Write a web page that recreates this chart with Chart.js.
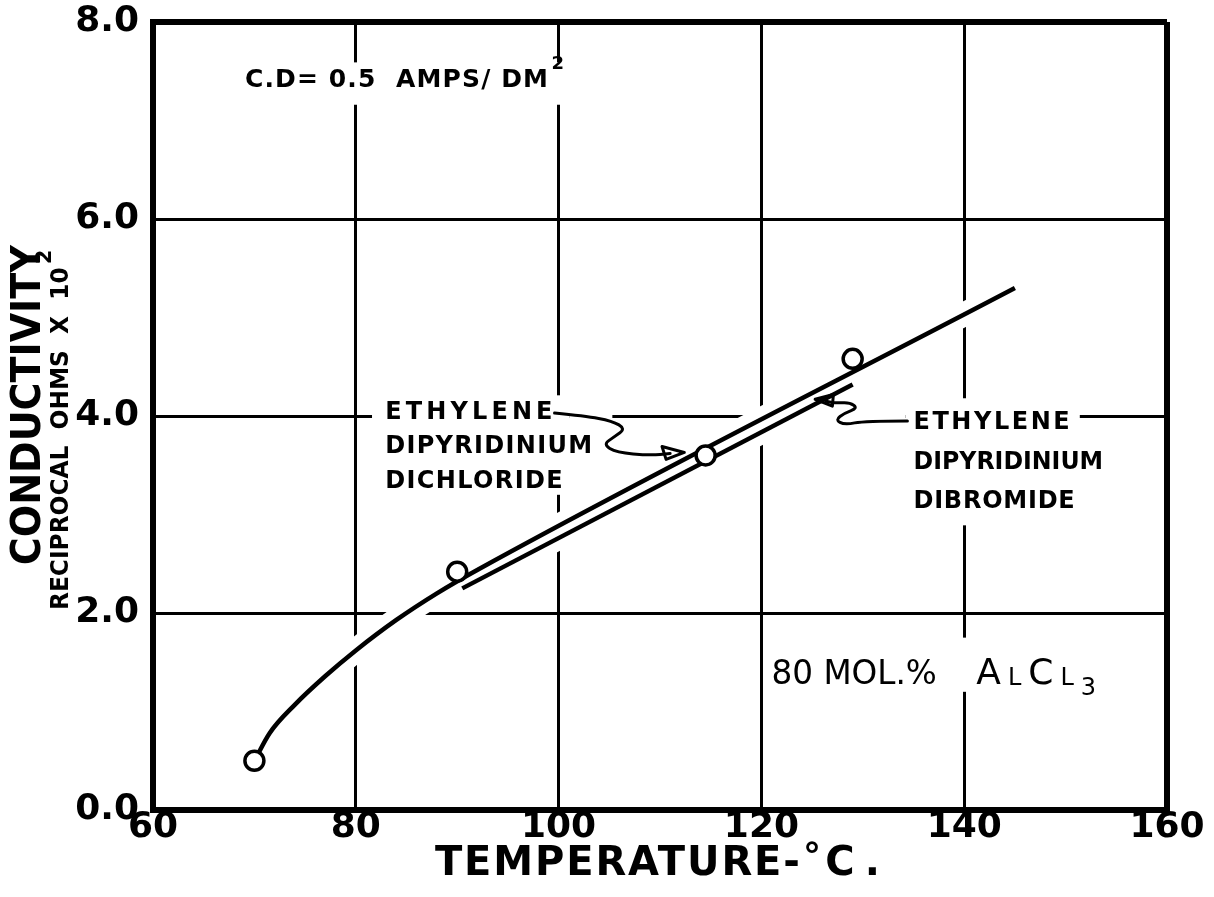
<!DOCTYPE html>
<html><head><meta charset="utf-8">
<script src="https://cdn.jsdelivr.net/npm/chart.js@4.4.1/dist/chart.umd.min.js"></script>
<style>html,body{margin:0;padding:0;background:#fff}#wrap{width:1214px;height:897px}</style>
</head><body><div id="wrap"><canvas id="c" width="1214" height="897"></canvas></div>
<script>
// ---- data ----
const xTicks = [60, 80, 100, 120, 140, 160];
const yTicks = [0, 2, 4, 6, 8];
const measuredTemp = [70, 90, 114.5, 129];
const measuredCond = [0.5, 2.42, 3.6, 4.58];
const chlorideTemp = [70, 71.5, 74, 77, 80, 84, 88, 92.2, 145];
const chlorideCond = [0.5, 0.78, 1.07, 1.36, 1.62, 1.93, 2.2, 2.45, 5.3];
const bromideTemp = [90.5, 129];
const bromideCond = [2.25, 4.32];

const FONT = '"DejaVu Sans", sans-serif';
const pts = (xs, ys) => xs.map((x, i) => ({x, y: ys[i]}));

function drawFit(ctx, str, x, y, w, font) {
  ctx.save();
  ctx.font = font;
  ctx.letterSpacing = '0px';
  ctx.textBaseline = 'middle';
  ctx.textAlign = 'left';
  const m = ctx.measureText(str).width;
  const n = str.length;
  const ls = n > 1 ? (w - m) / (n - 1) : 0;
  ctx.translate(x, y);
  if (ls >= 0) { ctx.letterSpacing = ls + 'px'; ctx.fillText(str, 0, 0); }
  else { ctx.scale(w / m, 1); ctx.fillText(str, 0, 0); }
  ctx.restore();
}

const notes = {
  id: 'notes',
  beforeDatasetsDraw(chart) {
    const {ctx, scales: {x, y}} = chart;
    const boxes = [
      [68.6, 100.6, 7.59, 7.16],
      [81.6, 101.1, 4.21, 3.20],
      [101.1, 105.3, 4.11, 3.84],
      [134.2, 151.4, 4.18, 2.89],
      [125.1, 134.2, 4.11, 3.84],
      [120.4, 156.5, 1.75, 1.20]
    ];
    ctx.save();
    ctx.fillStyle = '#fff';
    boxes.forEach(b => {
      const x0 = x.getPixelForValue(b[0]), x1 = x.getPixelForValue(b[1]);
      const y0 = y.getPixelForValue(b[2]), y1 = y.getPixelForValue(b[3]);
      ctx.fillRect(x0, y0, x1 - x0, y1 - y0);
    });
    ctx.restore();
  },
  afterDatasetsDraw(chart) {
    const {ctx, scales: {x, y}} = chart;
    const X = v => x.getPixelForValue(v), Y = v => y.getPixelForValue(v);
    ctx.save();
    ctx.fillStyle = '#000';
    const lab = 'bold 24px ' + FONT;
    // C.D label
    drawFit(ctx, 'C.D= 0.5  AMPS/ DM', X(69.07), Y(7.41), X(98.95) - X(69.07), 'bold 25px ' + FONT);
    drawFit(ctx, '2', X(99.3), Y(7.57), 12, 'bold 18px ' + FONT);
    // dichloride label
    drawFit(ctx, 'ETHYLENE', X(82.9), Y(4.03), X(99.4) - X(82.9), lab);
    drawFit(ctx, 'DIPYRIDINIUM', X(82.9), Y(3.69), X(103.3) - X(82.9), lab);
    drawFit(ctx, 'DICHLORIDE', X(82.9), Y(3.33), X(100.4) - X(82.9), lab);
    // dibromide label
    drawFit(ctx, 'ETHYLENE', X(135.0), Y(3.93), X(150.4) - X(135.0), lab);
    drawFit(ctx, 'DIPYRIDINIUM', X(135.0), Y(3.53), X(153.7) - X(135.0), lab);
    drawFit(ctx, 'DIBROMIDE', X(135.0), Y(3.13), X(150.9) - X(135.0), lab);
    // 80 MOL.% AlCl3
    drawFit(ctx, '80 MOL.%', X(121.0), Y(1.37), X(137.3) - X(121.0), '34px ' + FONT);
    let cx = X(141.2);
    const parts = [['A', '36px', 0], ['L', '24px', 4], ['C', '36px', 0], ['L', '24px', 4], ['3', '24px', 14]];
    ctx.textBaseline = 'middle';
    parts.forEach(p => {
      ctx.font = p[1] + ' ' + FONT;
      ctx.fillText(p[0], cx, Y(1.37) + p[2]);
      cx += ctx.measureText(p[0]).width + 7;
    });
    // leaders
    ctx.lineWidth = 3;
    ctx.lineJoin = 'round';
    ctx.lineCap = 'round';
    ctx.strokeStyle = '#000';
    const path = (arr) => {
      ctx.beginPath();
      ctx.moveTo(X(arr[0][0]), Y(arr[0][1]));
      for (let i = 1; i < arr.length - 1; i++) {
        const mx = (X(arr[i][0]) + X(arr[i + 1][0])) / 2, my = (Y(arr[i][1]) + Y(arr[i + 1][1])) / 2;
        ctx.quadraticCurveTo(X(arr[i][0]), Y(arr[i][1]), mx, my);
      }
      const l = arr[arr.length - 1];
      ctx.lineTo(X(l[0]), Y(l[1]));
      ctx.stroke();
    };
    path([[99.6, 4.03], [102.6, 4.0], [105.3, 3.95], [106.6, 3.87], [105.5, 3.79], [104.4, 3.71], [105.7, 3.63], [109.0, 3.6], [111.0, 3.62]]);
    ctx.beginPath();
    ctx.moveTo(X(112.4), Y(3.63)); ctx.lineTo(X(110.2), Y(3.69)); ctx.lineTo(X(110.6), Y(3.56)); ctx.closePath(); ctx.stroke();
    path([[134.4, 3.95], [130.2, 3.95], [128.2, 3.91], [127.3, 3.96], [128.2, 4.03], [129.5, 4.08], [128.7, 4.14], [127.3, 4.13], [126.4, 4.15]]);
    ctx.beginPath();
    ctx.moveTo(X(125.3), Y(4.17)); ctx.lineTo(X(127.1), Y(4.22)); ctx.lineTo(X(127.0), Y(4.10)); ctx.closePath(); ctx.stroke();
    ctx.restore();
  },
  afterDraw(chart) {
    const {ctx, chartArea: a, scales: {x, y}} = chart;
    const X = v => x.getPixelForValue(v), Y = v => y.getPixelForValue(v);
    ctx.save();
    ctx.fillStyle = '#000';
    // y title
    ctx.save();
    ctx.translate(a.left - 123, Y(4.11));
    ctx.rotate(-Math.PI / 2);
    drawFit(ctx, 'CONDUCTIVITY', -160, 0, 320, 'bold 40px ' + FONT);
    ctx.restore();
    ctx.save();
    ctx.translate(a.left - 92, Y(2.03));
    ctx.rotate(-Math.PI / 2);
    const len = Y(2.03) - Y(5.51);
    drawFit(ctx, 'RECIPROCAL  OHMS  X  10', 0, 0, len, 'bold 25px ' + FONT);
    drawFit(ctx, '2', len + 3, -15, 14, 'bold 21px ' + FONT);
    ctx.restore();
    // x title
    const ty = a.bottom + 55;
    drawFit(ctx, 'TEMPERATURE-', X(87.8), ty, X(123.8) - X(87.8), 'bold 40px ' + FONT);
    drawFit(ctx, '°', X(124.1), ty - 6, 18, 'bold 36px ' + FONT);
    drawFit(ctx, 'C.', X(126.3), ty, X(131.7) - X(126.3), 'bold 40px ' + FONT);
    ctx.restore();
  }
};

const edgeW = (vals) => (c) => (c.tick && (c.tick.value === vals[0] || c.tick.value === vals[1])) ? 6 : 3;

new Chart(document.getElementById('c'), {
  type: 'scatter',
  data: {
    datasets: [
      {label: 'halo1', data: pts(chlorideTemp, chlorideCond), showLine: true, borderColor: '#fff', borderWidth: 24, pointRadius: 0, cubicInterpolationMode: 'monotone', order: 5},
      {label: 'halo2', data: pts(bromideTemp, bromideCond), showLine: true, borderColor: '#fff', borderWidth: 24, pointRadius: 0, order: 5},
      {label: 'Ethylene dipyridinium dichloride', data: pts(chlorideTemp, chlorideCond), showLine: true, borderColor: '#000', borderWidth: 4.5, pointRadius: 0, cubicInterpolationMode: 'monotone', order: 2},
      {label: 'Ethylene dipyridinium dibromide', data: pts(bromideTemp, bromideCond), showLine: true, borderColor: '#000', borderWidth: 4.5, pointRadius: 0, order: 2},
      {label: 'Measured', data: pts(measuredTemp, measuredCond), showLine: false, pointRadius: 9.5, pointBorderWidth: 3.5, pointBackgroundColor: '#fff', pointBorderColor: '#000', order: 1}
    ]
  },
  options: {
    responsive: false,
    animation: false,
    devicePixelRatio: 1,
    events: [],
    layout: {padding: {top: 22, right: 47, left: 0, bottom: 0}},
    plugins: {legend: {display: false}, tooltip: {enabled: false}},
    scales: {
      x: {
        type: 'linear', min: 60, max: 160,
        afterBuildTicks: s => { s.ticks = xTicks.map(v => ({value: v})); },
        afterFit: s => { s.height = 87; s.paddingLeft = 0; s.paddingRight = 0; },
        ticks: {autoSkip: false, maxRotation: 0, padding: 0, color: '#000', font: {family: FONT, size: 36, weight: 'bold', lineHeight: 1}, callback: v => String(v)},
        grid: {color: '#000', lineWidth: edgeW([60, 160]), drawTicks: false},
        border: {color: '#000', width: 6}
      },
      y: {
        type: 'linear', min: 0, max: 8,
        afterBuildTicks: s => { s.ticks = yTicks.map(v => ({value: v})); },
        afterFit: s => { s.width = 153; s.paddingTop = 0; s.paddingBottom = 0; },
        ticks: {autoSkip: false, padding: 14, color: '#000', font: {family: FONT, size: 36, weight: 'bold'}, callback: v => Number(v).toFixed(1)},
        grid: {color: '#000', lineWidth: edgeW([0, 8]), drawTicks: false},
        border: {color: '#000', width: 6}
      }
    }
  },
  plugins: [notes]
});
</script>
</body></html>
